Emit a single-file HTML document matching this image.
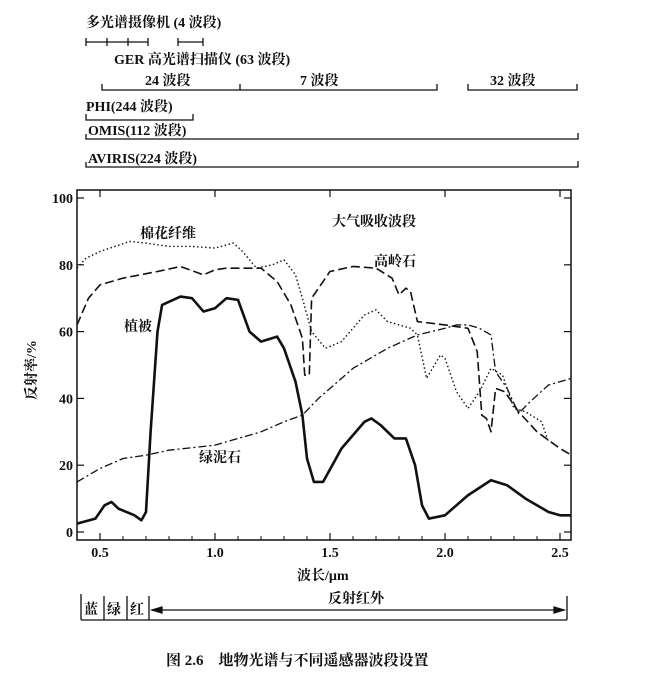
<!DOCTYPE html>
<html><head><meta charset="utf-8">
<style>
html,body{margin:0;padding:0;background:#fff;}
svg{display:block;font-family:"Liberation Serif","Noto Serif CJK SC","Noto Sans CJK SC",serif;}
</style></head>
<body>
<svg id="chart" width="661" height="684" viewBox="0 0 661 684">
<!-- Top sensor bands -->
<g fill="#111" font-size="14" font-weight="bold">
<text x="86" y="27">多光谱摄像机 (4 波段)</text>
<g stroke="#111" stroke-width="1.3">
<line x1="86" y1="42" x2="148" y2="42"/><line x1="86" y1="38" x2="86" y2="46"/><line x1="107" y1="38" x2="107" y2="46"/><line x1="128" y1="38" x2="128" y2="46"/><line x1="148" y1="38" x2="148" y2="46"/>
<line x1="178" y1="42" x2="203" y2="42"/><line x1="178" y1="38" x2="178" y2="46"/><line x1="203" y1="38" x2="203" y2="46"/>
</g>
<text x="114" y="64">GER 高光谱扫描仪 (63 波段)</text>
<g stroke="#111" stroke-width="1.3" fill="none">
<polyline points="102,84 102,90 240,90 240,84"/>
<polyline points="240,90 437,90 437,84"/>
<polyline points="468,84 468,90 577,90 577,84"/>
</g>
<text x="145" y="85">24 波段</text>
<text x="300" y="85">7 波段</text>
<text x="490" y="85">32 波段</text>
<text x="86" y="111">PHI(244 波段)</text>
<polyline points="86,114 86,120 193,120 193,114" stroke="#111" stroke-width="1.3" fill="none"/>
<text x="88" y="135">OMIS(112 波段)</text>
<polyline points="86,134 86,139 578,139 578,133" stroke="#111" stroke-width="1.3" fill="none"/>
<text x="88" y="163">AVIRIS(224 波段)</text>
<polyline points="86,162 86,167 578,167 578,161" stroke="#111" stroke-width="1.3" fill="none"/>
</g>
<g id="plot"></g>
<!-- Bottom region bar -->
<g stroke="#111" stroke-width="1.3" fill="none">
<line x1="81" y1="594" x2="81" y2="620"/><line x1="81" y1="620" x2="567" y2="620"/>
<line x1="104" y1="596" x2="104" y2="620"/><line x1="127" y1="596" x2="127" y2="620"/><line x1="149" y1="596" x2="149" y2="620"/>
<line x1="567" y1="596" x2="567" y2="620"/>
<line x1="152" y1="610" x2="564" y2="610"/>
<polygon points="152,610 162,607 162,613" fill="#111"/>
<polygon points="564,610 554,607 554,613" fill="#111"/>
</g>
<g font-size="14" font-weight="bold" fill="#111">
<text x="84" y="614">蓝</text>
<text x="107" y="614">绿</text>
<text x="130" y="614">红</text>
<text x="328" y="603">反射红外</text>
<text x="166" y="665" font-size="15">图 2.6　地物光谱与不同遥感器波段设置</text>
</g>
</svg>
<script>
const xTicks=[0.5,1.0,1.5,2.0,2.5];
const xTickLabels=["0.5","1.0","1.5","2.0","2.5"];
const yTicks=[0,20,40,60,80,100];
const yTickLabels=["0","20","40","60","80","100"];
const vegX=[0.4,0.48,0.52,0.55,0.58,0.65,0.68,0.7,0.72,0.75,0.77,0.85,0.9,0.95,1.0,1.05,1.1,1.15,1.2,1.27,1.3,1.35,1.38,1.4,1.43,1.47,1.55,1.65,1.68,1.72,1.78,1.83,1.87,1.9,1.93,2.0,2.1,2.2,2.27,2.35,2.45,2.5,2.55];
const vegY=[2.5,4,8,9,7,5,3.5,6,30,60,68,70.5,70,66,67,70,69.5,60,57,58.5,55,45,35,22,15,15,25,33,34,32,28,28,20,8,4,5,11,15.5,14,10,6,5,5];
const kaoX=[0.4,0.45,0.5,0.6,0.75,0.85,0.95,1.0,1.05,1.2,1.27,1.33,1.38,1.39,1.41,1.42,1.5,1.6,1.7,1.77,1.8,1.83,1.85,1.88,2.0,2.1,2.14,2.16,2.18,2.2,2.22,2.26,2.32,2.4,2.5,2.55];
const kaoY=[62,70,74,76,78,79.5,77,78.5,79,79,75,68,58,47,47,70,78,79.5,79,76,71,73,72,63,62,61,54,35,34,30,43,42,36,30,25,23];
const cotX=[0.4,0.44,0.5,0.63,0.7,0.8,0.9,1.0,1.08,1.12,1.18,1.25,1.3,1.35,1.38,1.42,1.48,1.55,1.65,1.7,1.75,1.85,1.88,1.92,1.98,2.0,2.05,2.1,2.15,2.2,2.25,2.3,2.35,2.42,2.45];
const cotY=[79,82,84,87,86.5,85.5,85.5,85,86.5,84,79,80,81.5,77,70,60,55,57,65,66.5,63,61,59,46,53,52,42,37,42,49,47,37,36,33,27];
const chlX=[0.4,0.5,0.6,0.7,0.8,1.0,1.1,1.2,1.3,1.38,1.45,1.6,1.75,1.88,2.0,2.05,2.1,2.15,2.2,2.22,2.27,2.32,2.37,2.45,2.55];
const chlY=[15,19,22,23,24.5,26,28,30,33,35,40,49,55,59,61,62,62,61,59,48,43,35.5,39,44,46];

const NS="http://www.w3.org/2000/svg";
const g=document.getElementById('plot');
const L=77,R=571,T=190,B=540;
function sx(v){return 100+(v-0.5)*230;}
function sy(v){return 532-v*3.34;}
function mk(tag,attrs){const e=document.createElementNS(NS,tag);for(const k in attrs)e.setAttribute(k,attrs[k]);g.appendChild(e);return e;}
const frame=mk('rect',{x:L,y:T,width:R-L,height:B-T,fill:'none',stroke:'#111','stroke-width':1.5});


xTicks.forEach((t,i)=>{
  const x=sx(t);
  const tk=mk('line',{x1:x,y1:B,x2:x,y2:B-7,stroke:'#111','stroke-width':1.2});
  
  
  const tk2=mk('line',{x1:x,y1:T,x2:x,y2:T+7,stroke:'#111','stroke-width':1.2});
  
  
  const lb=mk('text',{x:x,y:B+17,'text-anchor':'middle','font-size':14,'font-weight':'bold',fill:'#111'});
  lb.textContent=xTickLabels[i];
  
  
});
for(let v=0.6;v<2.56;v+=0.1){
  if(Math.abs((v*10)%5)<0.01)continue;
  const x=sx(v);
  const m=mk('line',{x1:x,y1:B,x2:x,y2:B-4,stroke:'#111','stroke-width':1});
  
  
}
yTicks.forEach((t,i)=>{
  const y=sy(t);
  const tk=mk('line',{x1:L,y1:y,x2:L+7,y2:y,stroke:'#111','stroke-width':1.2});
  
  
  const tk2=mk('line',{x1:R,y1:y,x2:R-7,y2:y,stroke:'#111','stroke-width':1.2});
  
  
  const lb=mk('text',{x:L-4,y:y+5,'text-anchor':'end','font-size':14,'font-weight':'bold',fill:'#111'});
  lb.textContent=yTickLabels[i];
  
  
});
function series(xs,ys,name,attrs){
  const p=mk('polyline',Object.assign({points:xs.map((x,i)=>sx(x)+','+sy(ys[i])).join(' '),fill:'none',stroke:'#111','stroke-linejoin':'round'},attrs));
  
  
}
series(vegX,vegY,'vegetation-line',{'stroke-width':2.6});
series(kaoX,kaoY,'kaolinite-line',{'stroke-width':1.6,'stroke-dasharray':'9 4'});
series(cotX,cotY,'cotton-fiber-line',{'stroke-width':1.4,'stroke-dasharray':'1.5 2.5'});
series(chlX,chlY,'chlorite-line',{'stroke-width':1.3,'stroke-dasharray':'8 3 2 3'});
function txt(x,y,s,name,extra){const t=mk('text',Object.assign({x:x,y:y,'font-size':14,'font-weight':'bold',fill:'#111'},extra||{}));t.textContent=s;return t;}
txt(140,238,'棉花纤维','cotton-fiber-label');
txt(332,226,'大气吸收波段','atmospheric-absorption-label');
txt(374,266,'高岭石','kaolinite-label');
txt(124,331,'植被','vegetation-label');
txt(199,462,'绿泥石','chlorite-label');
txt(297,580,'波长/µm','x-axis-title');
const yt=txt(0,0,'反射率/%','y-axis-title',{transform:'translate(36,400) rotate(-90)'});
</script>
</body></html>
